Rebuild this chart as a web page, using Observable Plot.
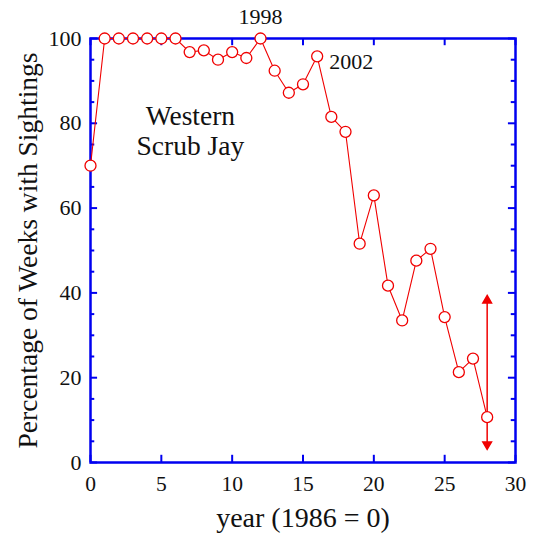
<!DOCTYPE html>
<html>
<head>
<meta charset="utf-8">
<script src="https://cdn.jsdelivr.net/npm/d3@7"></script>
<script src="https://cdn.jsdelivr.net/npm/@observablehq/plot@0.6"></script>
<style>
  html, body { margin: 0; padding: 0; background: #fff; }
  #chart { width: 533px; height: 541px; }
  #chart svg, #chart svg text { font-family: "Liberation Serif", "Times New Roman", serif !important; }
</style>
</head>
<body>
<div id="chart"></div>
<script>
// Year offsets (1986 = 0)
const years = [0,1,2,3,4,5,6,7,8,9,10,11,12,13,14,15,16,17,18,19,20,21,22,23,24,25,26,27,28];
// Percentage of weeks with sightings
const pct = [70,100,100,100,100,100,100,96.8,97.2,95,96.8,95.4,100,92.4,87.2,89.2,95.8,81.5,78,51.6,63,41.7,33.5,47.6,50.4,34.3,21.3,24.5,10.7];

// Uncertainty arrow at last year
const errYear = [28];
const errLow = [3.8];
const errHigh = [38.7];

// Tick values
const xTicks = [0,5,10,15,20,25,30];
const yTicks = [0,20,40,60,80,100];
const yMinorTicks = [5,10,15,25,30,35,45,50,55,65,70,75,85,90,95];

// Annotations
const annotations = [
  {x: 12, y: 100, text: "1998", kind: "top"},
  {x: 16, y: 95.8, text: "2002", kind: "right"}
];
const speciesLabel = {x: 7.05, y: 78.3, text: "Western\nScrub Jay"};

const data = years.map((x, i) => ({x, y: pct[i]}));
const err = errYear.map((x, i) => ({x, lo: errLow[i], hi: errHigh[i]}));

const blue = "#0000f0";
const red = "#f00000";
const font = "Liberation Serif";

const chart = Plot.plot({
  width: 533,
  height: 541,
  marginLeft: 90,
  marginRight: 18,
  marginTop: 38,
  marginBottom: 79,
  style: {fontFamily: font, fontSize: "22px", color: "#111", background: "#fff"},
  x: {domain: [0, 30], label: null},
  y: {domain: [0, 100], label: null},
  marks: [
    // tick labels
    Plot.axisX(xTicks, {anchor: "bottom", tickSize: 0, tickPadding: 13, fontSize: 21.5, fontFamily: font, label: null}),
    Plot.axisY(yTicks, {anchor: "left", tickSize: 0, tickPadding: 9, fontSize: 22, fontFamily: font, label: null}),
    // inward tick marks
    Plot.ruleX(xTicks, {x: d => d, y1: 0, y2: 1.7, stroke: blue, strokeWidth: 2}),
    Plot.ruleX(xTicks, {x: d => d, y1: 100, y2: 98.3, stroke: blue, strokeWidth: 2}),
    Plot.ruleY(yTicks, {y: d => d, x1: 0, x2: 0.5, stroke: blue, strokeWidth: 2}),
    Plot.ruleY(yTicks, {y: d => d, x1: 30, x2: 29.5, stroke: blue, strokeWidth: 2}),
    Plot.ruleY(yMinorTicks, {y: d => d, x1: 0, x2: 0.3, stroke: blue, strokeWidth: 2}),
    Plot.ruleY(yMinorTicks, {y: d => d, x1: 30, x2: 29.7, stroke: blue, strokeWidth: 2}),
    Plot.frame({stroke: blue, strokeWidth: 2.5}),
    // axis titles
    Plot.text(["year (1986 = 0)"], {frameAnchor: "bottom", textAnchor: "middle", dy: 64, fontSize: 28, fontFamily: font, fill: "#111"}),
    Plot.text(["Percentage of Weeks with Sightings"], {frameAnchor: "left", textAnchor: "middle", rotate: -90, dx: -62, fontSize: 27.5, fontFamily: font, fill: "#111"}),
    // uncertainty arrow
    Plot.ruleX(err, {x: "x", y1: "lo", y2: "hi", stroke: red, strokeWidth: 1.5}),
    Plot.dot(err, {x: "x", y: "hi", symbol: "triangle", r: 3.2, fill: red, stroke: red, dy: 2}),
    Plot.dot(err, {x: "x", y: "lo", symbol: "triangle", r: 3.2, fill: red, stroke: red, rotate: 180, dy: -2}),
    // data
    Plot.line(data, {x: "x", y: "y", stroke: red, strokeWidth: 1.1}),
    Plot.dot(data, {x: "x", y: "y", r: 5.5, stroke: red, strokeWidth: 1.3, fill: "white"}),
    // annotations
    Plot.text(annotations.filter(d => d.kind === "top"), {x: "x", y: "y", text: "text", dy: -22, fontSize: 22, fontFamily: font, fill: "#111"}),
    Plot.text(annotations.filter(d => d.kind === "right"), {x: "x", y: "y", text: "text", textAnchor: "start", dx: 12, dy: 6, fontSize: 22, fontFamily: font, fill: "#111"}),
    Plot.text([speciesLabel], {x: "x", y: "y", text: "text", fontSize: 27.5, lineHeight: 1.1, fontFamily: font, fill: "#111"})
  ]
});
document.getElementById("chart").appendChild(chart);
</script>
</body>
</html>
